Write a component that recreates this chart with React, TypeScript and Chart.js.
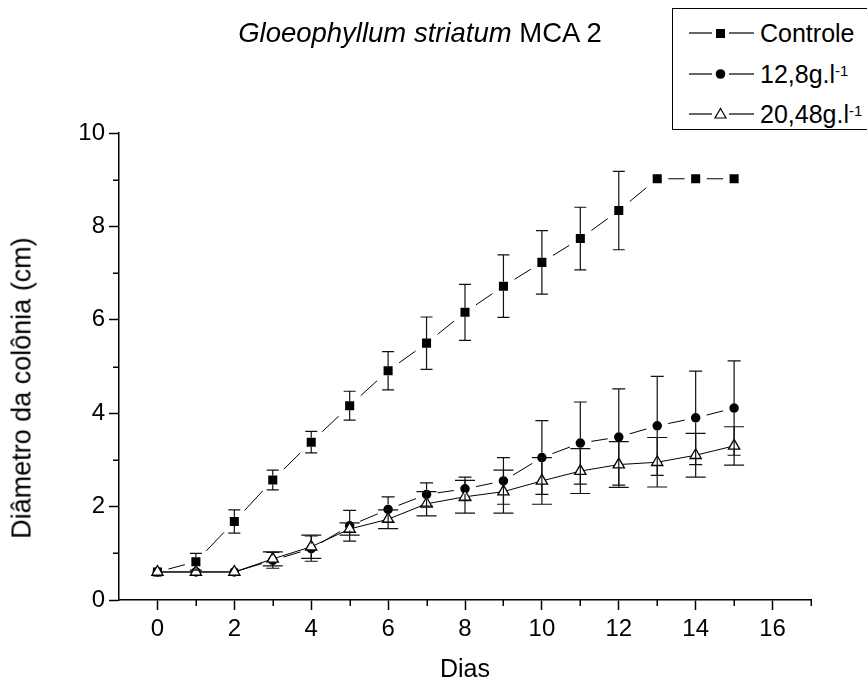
import React, { useEffect, useRef } from "react";
import { Chart, registerables } from "chart.js";
Chart.register(...registerables);

// ---- data ----
const days = [0, 1, 2, 3, 4, 5, 6, 7, 8, 9, 10, 11, 12, 13, 14, 15];
const controle = [0.6, 0.82, 1.68, 2.57, 3.38, 4.16, 4.91, 5.5, 6.16, 6.72, 7.23, 7.74, 8.34, 9.02, 9.02, 9.02];
const controleErr = [0, 0.18, 0.25, 0.21, 0.23, 0.31, 0.41, 0.56, 0.6, 0.67, 0.68, 0.67, 0.84, 0, 0, 0];
const conc128 = [0.6, 0.6, 0.6, 0.85, 1.1, 1.59, 1.94, 2.26, 2.38, 2.55, 3.05, 3.36, 3.49, 3.73, 3.9, 4.11];
const conc128Err = [0, 0, 0, 0.17, 0.27, 0.33, 0.27, 0.25, 0.25, 0.5, 0.79, 0.88, 1.03, 1.06, 1.0, 1.01];
const conc2048 = [0.6, 0.6, 0.6, 0.88, 1.14, 1.52, 1.73, 2.06, 2.21, 2.32, 2.55, 2.76, 2.9, 2.95, 3.1, 3.3];
const conc2048Err = [0, 0, 0, 0.15, 0.25, 0.13, 0.2, 0.26, 0.35, 0.46, 0.5, 0.48, 0.49, 0.53, 0.47, 0.41];
const xMajorTicks = [0, 2, 4, 6, 8, 10, 12, 14, 16];
const xMinorTicks = [1, 3, 5, 7, 9, 11, 13, 15, 17];
const yMinorTicks = [1, 3, 5, 7, 9];

const FONT = "'Liberation Sans', Arial, sans-serif";

// error bars drawn after datasets, skipping the marker body
const errorBarPlugin = {
  id: "errorBars",
  afterDatasetsDraw(chart: any) {
    const ctx = chart.ctx;
    const ys = chart.scales.y;
    chart.data.datasets.forEach((ds: any, i: number) => {
      const meta = chart.getDatasetMeta(i);
      const errs = ds.errors;
      if (!errs) return;
      ctx.save();
      ctx.strokeStyle = "#111";
      ctx.lineWidth = 1.2;
      meta.data.forEach((pt: any, j: number) => {
        const e = errs[j];
        if (!e) return;
        const v = ds.values[j];
        const x = pt.x;
        const yc = pt.y;
        const yt = ys.getPixelForValue(v + e);
        const yb = ys.getPixelForValue(v - e);
        const hw = ds.capHalf;
        ctx.beginPath();
        ctx.moveTo(x, yt);
        ctx.lineTo(x, Math.max(yt, yc - ds.skipUp));
        ctx.moveTo(x, Math.min(yb, yc + ds.skipDown));
        ctx.lineTo(x, yb);
        ctx.moveTo(x - hw, yt);
        ctx.lineTo(x + hw, yt);
        ctx.moveTo(x - hw, yb);
        ctx.lineTo(x + hw, yb);
        ctx.stroke();
      });
      ctx.restore();
    });
  },
};

const minorTickPlugin = {
  id: "minorTicks",
  afterDraw(chart: any) {
    const ctx = chart.ctx;
    const xs = chart.scales.x;
    const ys = chart.scales.y;
    const a = chart.chartArea;
    ctx.save();
    ctx.strokeStyle = "#000";
    ctx.lineWidth = 1.5;
    ctx.beginPath();
    xMinorTicks.forEach((v) => {
      const px = Math.round(xs.getPixelForValue(v)) + 0.25;
      ctx.moveTo(px, a.bottom);
      ctx.lineTo(px, a.bottom + 6);
    });
    yMinorTicks.forEach((v) => {
      const py = Math.round(ys.getPixelForValue(v)) + 0.25;
      ctx.moveTo(a.left, py);
      ctx.lineTo(a.left - 6, py);
    });
    ctx.stroke();
    ctx.restore();
  },
};

function ChartCanvas() {
  const ref = useRef<HTMLCanvasElement | null>(null);
  useEffect(() => {
    if (!ref.current) return;
    const mk = (vals: number[]) => days.map((d, i) => ({ x: d, y: vals[i] }));
    const chart = new Chart(ref.current, {
      type: "line",
      data: {
        datasets: [
          {
            label: "Controle",
            data: mk(controle),
            values: controle,
            errors: controleErr,
            capHalf: 6,
            skipUp: 4.5,
            skipDown: 4.5,
            borderColor: "#000",
            borderWidth: 1,
            pointStyle: "rect",
            pointRadius: 11,
            pointBackgroundColor: "#000",
            pointBorderColor: "#fff",
            pointBorderWidth: 6.5,
            order: 3,
          } as any,
          {
            label: "12,8g.l-1",
            data: mk(conc128),
            values: conc128,
            errors: conc128Err,
            capHalf: 6.5,
            skipUp: 4.8,
            skipDown: 4.8,
            borderColor: "#000",
            borderWidth: 1,
            pointStyle: "circle",
            pointRadius: (c: any) => (c.dataIndex <= 2 ? 4.8 : 8),
            pointBackgroundColor: "#000",
            pointBorderColor: "#fff",
            pointBorderWidth: (c: any) => (c.dataIndex <= 2 ? 0 : 6.5),
            order: 2,
          } as any,
          {
            label: "20,48g.l-1",
            data: mk(conc2048),
            values: conc2048,
            errors: conc2048Err,
            capHalf: 10,
            skipUp: 6.3,
            skipDown: 3.2,
            borderColor: "#000",
            borderWidth: 1,
            pointStyle: "triangle",
            pointRadius: 6.5,
            pointBackgroundColor: "#fff",
            pointBorderColor: "#000",
            pointBorderWidth: 1.3,
            order: 1,
          } as any,
        ],
      },
      options: {
        animation: false,
        responsive: false,
        maintainAspectRatio: false,
        layout: { padding: { left: 0, top: 133, right: 56, bottom: 0 } },
        plugins: { legend: { display: false }, tooltip: { enabled: false }, title: { display: false } },
        scales: {
          x: {
            type: "linear",
            min: -1,
            max: 17,
            afterBuildTicks: (s: any) => {
              s.ticks = xMajorTicks.map((v) => ({ value: v }));
            },
            afterFit: (s: any) => {
              s.height = 86;
            },
            border: { display: true, color: "#000", width: 1.5 },
            grid: { display: true, drawOnChartArea: false, drawTicks: true, tickLength: 10, tickColor: "#000", tickWidth: 1.5 },
            ticks: { color: "#000", font: { family: FONT, size: 24 }, padding: 5, maxRotation: 0 },
          },
          y: {
            type: "linear",
            min: 0,
            max: 10,
            ticks: { stepSize: 2, color: "#000", font: { family: FONT, size: 24 }, padding: 4 },
            afterFit: (s: any) => {
              s.width = 119;
            },
            border: { display: true, color: "#000", width: 1.5 },
            grid: { display: true, drawOnChartArea: false, drawTicks: true, tickLength: 10, tickColor: "#000", tickWidth: 1.5 },
          },
        },
      },
      plugins: [errorBarPlugin, minorTickPlugin],
    } as any);
    return () => chart.destroy();
  }, []);
  return <canvas ref={ref} width={867} height={686} style={{ position: "absolute", left: 0, top: 0, width: 867, height: 686 }} />;
}

function Marker({ kind }: { kind: string }) {
  return (
    <svg width={70} height={20} style={{ position: "absolute", left: 0, top: -10 }}>
      <line x1={0} y1={10} x2={23} y2={10} stroke="#000" strokeWidth={1.2} />
      <line x1={40} y1={10} x2={65} y2={10} stroke="#000" strokeWidth={1.2} />
      {kind === "square" && <rect x={27} y={6} width={9} height={9} fill="#000" />}
      {kind === "circle" && <circle cx={31.5} cy={10} r={4.8} fill="#000" />}
      {kind === "triangle" && <polygon points="31.5,4.5 37,14 26,14" fill="#fff" stroke="#000" strokeWidth={1.2} />}
    </svg>
  );
}

export default function App() {
  const rowStyle = (top: number): React.CSSProperties => ({ position: "absolute", left: 16, top, height: 0 });
  const textStyle: React.CSSProperties = {
    position: "absolute",
    left: 71,
    top: -14,
    fontFamily: FONT,
    fontSize: 25,
    lineHeight: "28px",
    whiteSpace: "nowrap",
    color: "#000",
  };
  const supStyle: React.CSSProperties = { fontSize: 15, verticalAlign: "top", position: "relative", top: -3 };
  return (
    <div style={{ position: "fixed", left: 0, top: 0, width: 867, height: 686, background: "#fff", overflow: "hidden" }}>
      <ChartCanvas />
      <div
        style={{
          position: "absolute",
          left: 420,
          top: 19,
          transform: "translateX(-50%)",
          fontFamily: FONT,
          fontSize: 27.5,
          lineHeight: "27px",
          whiteSpace: "nowrap",
          color: "#000",
        }}
      >
        <i>Gloeophyllum striatum</i> MCA 2
      </div>
      <div
        style={{
          position: "absolute",
          left: 465,
          top: 656,
          transform: "translateX(-50%)",
          fontFamily: FONT,
          fontSize: 25,
          lineHeight: "25px",
          whiteSpace: "nowrap",
          color: "#000",
        }}
      >
        Dias
      </div>
      <div
        style={{
          position: "absolute",
          left: 22,
          top: 388,
          transform: "translate(-50%, -50%) rotate(-90deg)",
          fontFamily: FONT,
          fontSize: 27,
          lineHeight: "27px",
          whiteSpace: "nowrap",
          color: "#000",
        }}
      >
        Diâmetro da colônia (cm)
      </div>
      <div
        style={{
          position: "absolute",
          left: 672,
          top: 8,
          width: 200,
          height: 120,
          border: "1px solid #000",
          background: "#fff",
        }}
      >
        <div style={rowStyle(24)}>
          <Marker kind="square" />
          <div style={textStyle}>Controle</div>
        </div>
        <div style={rowStyle(65)}>
          <Marker kind="circle" />
          <div style={textStyle}>
            12,8g.l<span style={supStyle}>-1</span>
          </div>
        </div>
        <div style={rowStyle(105)}>
          <Marker kind="triangle" />
          <div style={textStyle}>
            20,48g.l<span style={supStyle}>-1</span>
          </div>
        </div>
      </div>
    </div>
  );
}
